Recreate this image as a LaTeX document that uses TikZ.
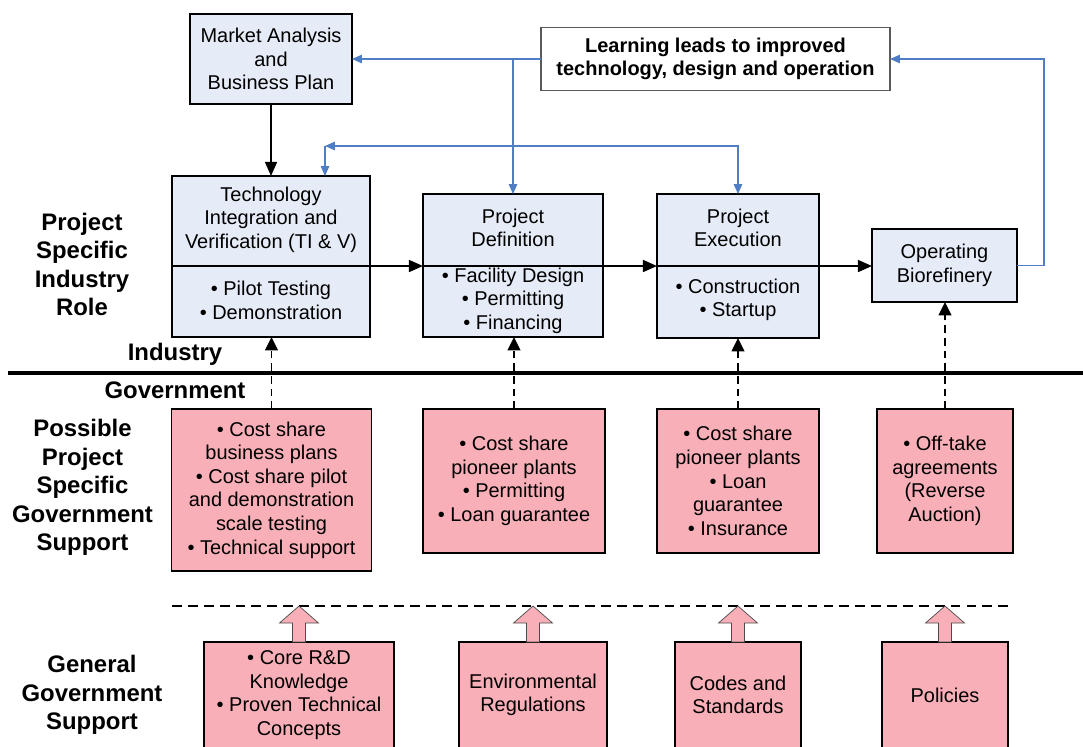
\documentclass[tikz,border=0pt]{standalone}
\usepackage{fontspec}
\setmainfont{Liberation Sans}
\usetikzlibrary{
  calc,        % offsets for the block arrows
  arrows.meta  % triangle tips
}
\definecolor{indblue}{HTML}{E6ECF7}
\definecolor{govpink}{HTML}{F8AFB8}
\definecolor{linkblue}{HTML}{4F7EC5}

\begin{document}
\begin{tikzpicture}[x=0.025cm, y=-0.025cm,
    box/.style={draw, line width=1.3pt, inner sep=0pt, outer sep=0pt, align=center,
      font={\fontsize{14.2}{16.8}\selectfont}},
    indbox/.style={box, fill=indblue},
    govbox/.style={box, fill=govpink},
    boxtext/.style={inner sep=0pt, align=center, font={\fontsize{14.2}{16.8}\selectfont}},
    sidelabel/.style={inner sep=0pt, align=center, font={\fontsize{17}{20.3}\selectfont\bfseries}},
    flowarrow/.style={line width=1.3pt, -{Triangle[length=10pt, width=8.5pt]}},
    linkarrow/.style={draw=linkblue, line width=0.8pt, -{Triangle[length=7pt, width=6pt]}},
    supportarrow/.style={line width=1.3pt, dash pattern=on 5.5pt off 3.5pt, -{Triangle[length=9.5pt, width=9pt]}},
    splitline/.style={line width=1.1pt, dash pattern=on 7pt off 4.3pt},
    blockarrow/.style={draw=black!70, line width=0.5pt, fill=govpink}
  ]
    \useasboundingbox (0,0) rectangle (1083,746);

    % Industry boxes
    \node[indbox, minimum width=4.05cm, minimum height=2.25cm] (market) at (271,59)
      {Market Analysis\\and\\Business Plan};
    \node[box, draw=black!65, line width=0.9pt, minimum width=8.725cm, minimum height=1.575cm,
      font={\fontsize{14.2}{16.8}\selectfont\bfseries}] (learn) at (715.5,59)
      {Learning leads to improved\\technology, design and operation};
    \node[indbox, minimum width=4.95cm, minimum height=4.025cm] (tiv) at (271,256.5) {};
    \node[indbox, minimum width=4.5cm, minimum height=3.575cm] (pdef) at (513,265.5) {};
    \node[indbox, minimum width=4.05cm, minimum height=3.6cm] (pexec) at (738,266) {};
    \node[indbox, minimum width=3.625cm, minimum height=1.825cm] (opbio) at (944.5,265.5)
      {Operating\\Biorefinery};

    % Box titles and lists
    \node[boxtext] (tivtitle) at (271,219.5) {Technology\\Integration and\\Verification (TI \& V)};
    \node[boxtext] (tivlist) at (271,300.5) {\textbullet{} Pilot Testing\\\textbullet{} Demonstration};
    \node[boxtext] (pdeftitle) at (513,228) {Project\\Definition};
    \node[boxtext] (pdeflist) at (513,300.5)
      {\textbullet{} Facility Design\\\textbullet{} Permitting\\\textbullet{} Financing};
    \node[boxtext] (pexectitle) at (738,228) {Project\\Execution};
    \node[boxtext] (pexeclist) at (738,300) {\textbullet{} Construction\\\textbullet{} Startup};

    % Project flow
    \coordinate (flowy) at (0,266);
    \draw[flowarrow] (market.south) -- (tiv.north);
    \draw[flowarrow] (tiv.west |- flowy) -- (pdef.west |- flowy);
    \draw[flowarrow] (pdef.west |- flowy) -- (pexec.west |- flowy);
    \draw[flowarrow] (pexec.west |- flowy) -- (opbio.west |- flowy);

    % Learning feedback
    \coordinate (fb) at (pdef.north |- 0,146);
    \coordinate (tivin) at (325,176);
    \draw[linkarrow] (learn.west) -- (market.east);
    \draw[linkarrow] (learn.west -| pdef.north) -- (pdef.north);
    \draw[linkarrow] (opbio.east) -- ++(27,0) |- (learn.east);
    \draw[linkarrow] (fb) -| (pexec.north);
    \draw[linkarrow] (fb) -- (fb -| tivin);
    \draw[linkarrow] (fb -| tivin) -- (tivin);

    % Side labels
    \node[sidelabel] (indrole) at (82,264.5) {Project\\Specific\\Industry\\Role};
    \node[sidelabel] (industry) at (175,354) {Industry};
    \node[sidelabel] (government) at (175,390) {Government};
    \node[sidelabel] (govrole) at (82.5,487.5) {Possible\\Project\\Specific\\Government\\Support};
    \node[sidelabel] (gensupport) at (92,695) {General\\Government\\Support};

    % Industry / government split
    \draw[line width=2.4pt] (8,373) -- (1083,373);

    % Project specific support
    \node[govbox, minimum width=5cm, minimum height=4.05cm] (g1) at (271.5,490)
      {\textbullet{} Cost share\\business plans\\\textbullet{} Cost share pilot\\and demonstration\\scale testing\\\textbullet{} Technical support};
    \node[govbox, minimum width=4.55cm, minimum height=3.6cm] (g2) at (514,481)
      {\textbullet{} Cost share\\pioneer plants\\\textbullet{} Permitting\\\textbullet{} Loan guarantee};
    \node[govbox, minimum width=4.05cm, minimum height=3.6cm] (g3) at (738,481)
      {\textbullet{} Cost share\\pioneer plants\\\textbullet{} Loan\\guarantee\\\textbullet{} Insurance};
    \node[govbox, minimum width=3.4cm, minimum height=3.6cm] (g4) at (945,481)
      {\textbullet{} Off-take\\agreements\\(Reverse\\Auction)};

    \foreach \g/\i in {g1/tiv, g2/pdef, g3/pexec, g4/opbio}
      \draw[supportarrow] (\g.north) -- (\g.north |- \i.south);

    % General support
    \coordinate (gl) at (172,606);
    \coordinate (gr) at (1013,606);
    \draw[splitline] (gl) -- (gr);

    \node[govbox, minimum width=4.75cm, minimum height=2.65cm] (b1) at (299,695)
      {\textbullet{} Core R\&D\\Knowledge\\\textbullet{} Proven Technical\\Concepts};
    \node[govbox, minimum width=3.7cm, minimum height=2.65cm] (b2) at (533,695)
      {Environmental\\Regulations};
    \node[govbox, minimum width=3.15cm, minimum height=2.65cm] (b3) at (738,695)
      {Codes and\\Standards};
    \node[govbox, minimum width=3.15cm, minimum height=2.65cm] (b4) at (945,695)
      {Policies};

    \foreach \b in {b1, b2, b3, b4}
      \draw[blockarrow] ($(\b.north)+(-6.5,0)$) -- ++(0,-19) -- ++(-13,0)
        -- (\b.north |- gl) -- ++(19.5,17) -- ++(-13,0) -- ++(0,19) -- cycle;
\end{tikzpicture}
\end{document}
